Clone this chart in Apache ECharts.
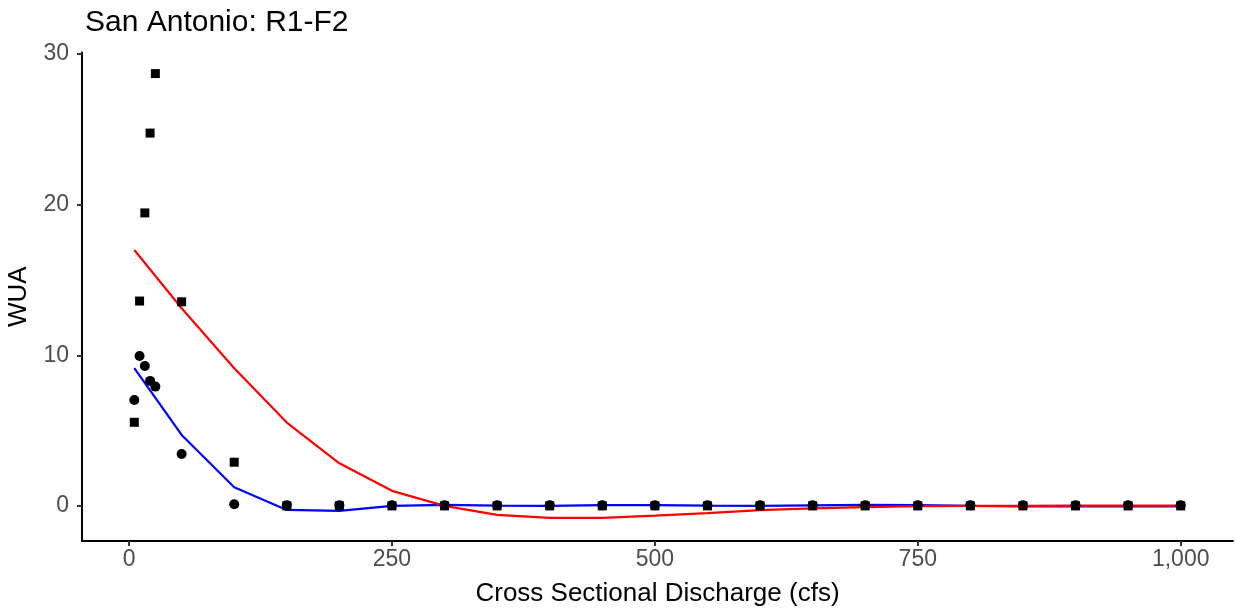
<!DOCTYPE html>
<html>
<head>
<meta charset="utf-8">
<script src="https://cdn.jsdelivr.net/npm/echarts@6/dist/echarts.min.js"></script>
<style>
html,body{margin:0;padding:0;background:#fff;}
#chart{width:1236px;height:612px;}
</style>
</head>
<body>
<div id="chart"></div>
<script>
// Point data
const pointX = [5,10,15,20,25,50,100,150,200,250,300,350,400,450,500,550,600,650,700,750,800,850,900,950,1000];
const squareY = [5.55,13.6,19.45,24.75,28.7,13.55,2.9,0,0,0,0,0,0,0,0,0,0,0,0,0,0,0,0,0,0];
const circleY = [7.03,9.95,9.29,8.3,7.92,3.45,0.11,0.05,0.05,0.05,0.05,0.05,0.05,0.05,0.05,0.05,0.05,0.05,0.05,0.05,0.05,0.05,0.05,0.05,0.05];
// Fitted lines
const lineX = [5,50,100,150,200,250,300,350,400,450,500,550,600,650,700,750,800,850,900,950,1000];
const redY = [16.99,13.12,9.14,5.53,2.83,1.0,0.0,-0.6,-0.8,-0.8,-0.65,-0.48,-0.28,-0.17,-0.08,-0.02,0,0,0.02,0.02,0.02];
const blueY = [9.14,4.71,1.24,-0.27,-0.33,0.0,0.07,0.02,0.0,0.05,0.05,0.02,0.0,0.03,0.07,0.05,0.0,-0.03,-0.03,-0.03,-0.03];
// Ticks
const xTicks = [0,250,500,750,1000];
const yTicks = [0,10,20,30];
const titleText = 'San Antonio: R1-F2';
const xTitle = 'Cross Sectional Discharge (cfs)';
const yTitle = 'WUA';

const zip = (xs, ys) => xs.map((x, i) => [x, ys[i]]);
const FONT = '"Liberation Sans", Arial, sans-serif';

const chart = echarts.init(document.getElementById('chart'));
chart.setOption({
  animation: false,
  backgroundColor: '#ffffff',
  title: {
    text: titleText, left: 80, top: 3,
    textStyle: {fontFamily: FONT, fontSize: 30, fontWeight: 'normal', color: '#000'}
  },
  grid: {left: 82, right: 3, top: 52.5, bottom: 71, containLabel: false, outerBoundsMode: 'none'},
  xAxis: {
    type: 'value', min: -44.75, max: 1049.75,
    name: xTitle, nameLocation: 'middle', nameGap: 40,
    nameTextStyle: {fontFamily: FONT, fontSize: 26, color: '#000'},
    axisLine: {show: true, onZero: false, lineStyle: {color: '#000', width: 2}},
    axisTick: {show: true, length: 5, lineStyle: {color: '#333', width: 2}, customValues: xTicks},
    axisLabel: {fontFamily: FONT, fontSize: 23, color: '#4D4D4D', margin: 7, customValues: xTicks,
      formatter: v => Number(v).toLocaleString('en-US')},
    splitLine: {show: false}
  },
  yAxis: {
    type: 'value', min: -2.33, max: 30.1,
    name: yTitle, nameLocation: 'middle', nameGap: 50, nameRotate: 90,
    nameTextStyle: {fontFamily: FONT, fontSize: 26, color: '#000'},
    axisLine: {show: true, onZero: false, lineStyle: {color: '#000', width: 2}},
    axisTick: {show: true, length: 5, lineStyle: {color: '#333', width: 2}, customValues: yTicks},
    axisLabel: {fontFamily: FONT, fontSize: 23, color: '#4D4D4D', margin: 13, customValues: yTicks},
    splitLine: {show: false}
  },
  series: [
    {type: 'line', data: zip(lineX, blueY), showSymbol: false, symbol: 'none',
      lineStyle: {color: '#0000FF', width: 2.2}, z: 2},
    {type: 'line', data: zip(lineX, redY), showSymbol: false, symbol: 'none',
      lineStyle: {color: '#FF0000', width: 2.2}, z: 3},
    {type: 'scatter', data: zip(pointX, squareY), symbol: 'rect', symbolSize: 9,
      itemStyle: {color: '#000', opacity: 1}, z: 4},
    {type: 'scatter', data: zip(pointX, circleY), symbol: 'circle', symbolSize: 10,
      itemStyle: {color: '#000', opacity: 1}, z: 5}
  ]
});
</script>
</body>
</html>
